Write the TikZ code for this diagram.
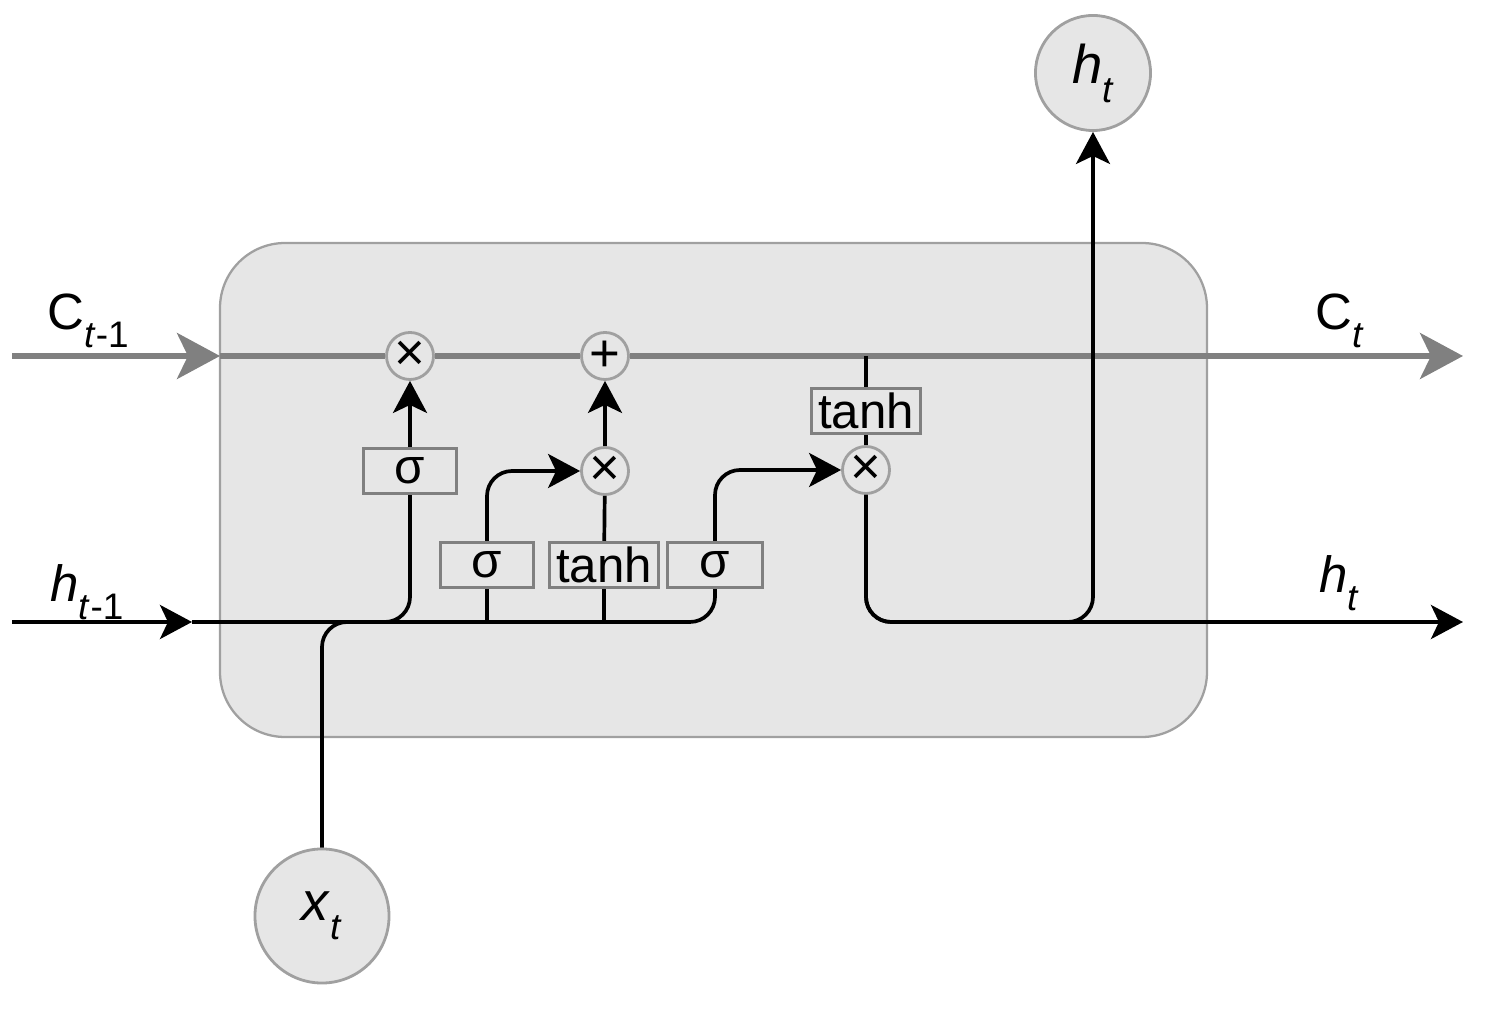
\documentclass[tikz,border=0pt]{standalone}
\usepackage{fontspec}
\setmainfont{Liberation Sans}
\usetikzlibrary{arrows.meta}
\definecolor{cellfill}{RGB}{230,230,230}
\definecolor{celldraw}{RGB}{160,160,160}
\definecolor{statecol}{RGB}{128,128,128}
\newcommand{\lsub}[1]{\raisebox{-0.35em}{\fontsize{10.5pt}{11pt}\selectfont #1}}
\begin{document}
\begin{tikzpicture}
  [x=0.01cm,y=-0.01cm,line width=1.05pt,
   every node/.style={font=\fontsize{14pt}{15pt}\selectfont,inner sep=0pt},
   gate/.style={draw=statecol,line width=0.85pt,fill=cellfill,minimum height=0.45cm},
   op/.style={circle,draw=celldraw,line width=0.8pt,fill=cellfill,minimum size=0.47cm,
     font=\fontsize{15pt}{15pt}\selectfont},
   io/.style={circle,draw=celldraw,line width=0.8pt,fill=cellfill,font=\fontsize{15.5pt}{17pt}\selectfont},
   lbl/.style={font=\fontsize{14.5pt}{17pt}\selectfont,anchor=base},
   arr/.style={-{Stealth[length=0.32cm,width=0.34cm,inset=0.08cm]}},
   cline/.style={draw=statecol,line width=1.5pt},
   carr/.style={-{Stealth[length=0.43cm,width=0.46cm,inset=0.11cm]}}]
  \useasboundingbox (0,0) rectangle (1502,1010);
  \draw[fill=cellfill,draw=celldraw,line width=0.65pt,rounded corners=0.65cm]
    (220,243) rectangle (1207,737);

  \node[op] (ma) at (410,356) {×};
  \node[op] (pa) at (605,356) {+};
  \node[op] (mb) at (605,471) {×};
  \node[op] (mc) at (866,470) {×};
  \node[gate,minimum width=0.93cm] (sa) at (410,471) {σ};
  \node[gate,minimum width=0.92cm] (sb) at (487,565) {σ};
  \node[gate,minimum width=1.08cm] (ta) at (604,565) {tanh};
  \node[gate,minimum width=0.94cm] (sc) at (715,565) {σ};
  \node[gate,minimum width=1.08cm] (tb) at (866,411) {tanh};
  \node[io,minimum size=1.15cm] (ht) at (1093,73) {\textit{h}\lsub{\textit{t}}};
  \node[io,minimum size=1.34cm] (xt) at (322,916) {\textit{x}\lsub{\textit{t}}};

  \coordinate (ca) at (12,356);
  \coordinate (cb) at (220,356);
  \coordinate (ct) at (866,356);
  \coordinate (cc) at (1463,356);
  \coordinate (ha) at (12,622);
  \coordinate (hb) at (192,622);
  \coordinate (hc) at (1463,622);

  \node[lbl] at (88,330) {C\lsub{\textit{t}-1}};
  \node[lbl] at (87,602) {\textit{h}\lsub{\textit{t}-1}};
  \node[lbl] at (1340,330) {C\lsub{\textit{t}}};
  \node[lbl] at (1339,593) {\textit{h}\lsub{\textit{t}}};

  % cell state
  \draw[cline,carr] (ca) -- (cb);
  \draw[cline] (cb) -- (ma);
  \draw[cline] (ma) -- (pa);
  \draw[cline,carr] (pa) -- (cc);

  % hidden state and input
  \draw[arr] (ha) -- (hb);
  \draw[rounded corners=0.25cm] (hb) -| (sc);
  \draw[rounded corners=0.25cm] (xt) |- (sa.south |- hb) -- (sa);
  \foreach \n in {sb,ta}
    \draw (\n.south |- hb) -- (\n);

  % gates
  \draw[arr] (sa) -- (ma);
  \draw[arr] (mb) -- (pa);
  \draw[arr,rounded corners=0.25cm] (sb) |- (mb);
  \draw[arr,rounded corners=0.25cm] (sc) |- (mc);
  \draw (ta) -- (mb);
  \draw (ct) -- (tb);
  \draw (tb) -- (mc);

  % output
  \draw[arr,rounded corners=0.25cm] (mc) |- (hc);
  \draw[arr,rounded corners=0.25cm] (mc) |- (ht.south |- hc) -- (ht);
\end{tikzpicture}
\end{document}
